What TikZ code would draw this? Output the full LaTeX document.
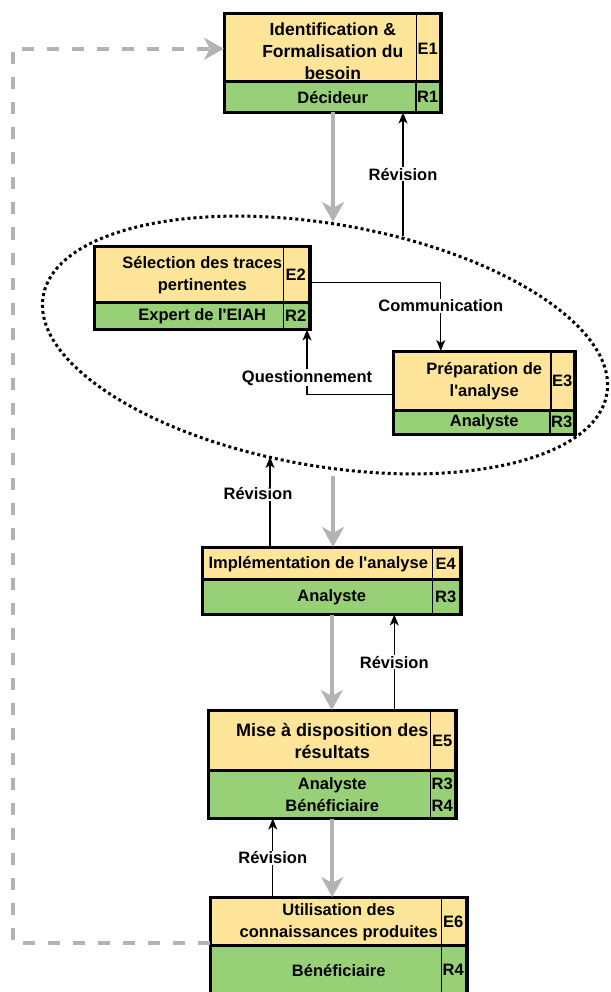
\documentclass[tikz,border=0pt]{standalone}
\usepackage{fontspec}
\setmainfont{Liberation Sans}
\usepackage{xcolor}
\usepackage{tikz}
\usetikzlibrary{arrows.meta}

\definecolor{stepyellow}{HTML}{FFE599}
\definecolor{rolegreen}{HTML}{97D077}
\definecolor{flowgray}{HTML}{B3B3B3}

\begin{document}
\begin{tikzpicture}[x=1pt, y=-1pt,
            font=\bfseries\fontsize{16.5}{22}\selectfont,
            cell/.style={draw, rectangle, line width=1.5pt, inner sep=1pt, align=center},
            stepcell/.style={cell, fill=stepyellow},
            rolecell/.style={cell, fill=rolegreen},
            frame/.style={line width=3pt},
            flow/.style={draw=flowgray, line width=4pt, -{Stealth[length=20pt,width=22pt,inset=6pt]}},
            rev/.style={line width=1.3pt, -{Stealth[length=11pt,width=9pt,inset=3pt]}},
            loopback/.style={draw=flowgray, line width=4pt, dash pattern=on 12pt off 13pt, -{Stealth[length=20pt,width=22pt,inset=6pt]}},
            grouping/.style={line width=3pt, dash pattern=on 3pt off 3pt},
            lbl/.style={fill=white, inner sep=1pt}
            ]
            \useasboundingbox (0,0) rectangle (610,992);

            % Group of steps 2 and 3
            \draw[grouping, rotate around={-9.85:(325,345)}] (325,345) ellipse [x radius=286, y radius=121];

            % Nodes with manual coordinates
            \node[stepcell, anchor=north west, minimum width=216pt, minimum height=68pt, font=\bfseries\fontsize{17.5}{22}\selectfont] (t1) at (224,14) {\rule{0pt}{17pt}Identification \&\\Formalisation du\\besoin};
            \node[stepcell, anchor=north east, minimum width=23pt, minimum height=68pt] (e1) at (440,14) {E1};
            \node[rolecell, anchor=north west, minimum width=216pt, minimum height=29pt] (r1) at (224,82) {Décideur};
            \node[rolecell, anchor=north east, minimum width=23pt, minimum height=29pt] (rc1) at (440,82) {R1};

            \node[stepcell, anchor=north west, minimum width=215pt, minimum height=56pt] (t2) at (94,246) {Sélection des traces\\pertinentes};
            \node[stepcell, anchor=north east, minimum width=25pt, minimum height=56pt] (e2) at (309,246) {E2};
            \node[rolecell, anchor=north west, minimum width=215pt, minimum height=26pt] (r2) at (94,302) {Expert de l\textquotesingle EIAH};
            \node[rolecell, anchor=north east, minimum width=25pt, minimum height=26pt] (rc2) at (309,302) {R2};

            \node[stepcell, anchor=north west, minimum width=181pt, minimum height=59pt] (t3) at (393,351) {Préparation de\\l\textquotesingle analyse};
            \node[stepcell, anchor=north east, minimum width=21pt, minimum height=59pt] (e3) at (574,351) {E3};
            \node[rolecell, anchor=north west, minimum width=181pt, minimum height=23pt] (r3) at (393,410) {Analyste};
            \node[rolecell, anchor=north east, minimum width=21pt, minimum height=23pt] (rc3) at (574,410) {R3};

            \node[stepcell, anchor=north west, minimum width=231pt, minimum height=32pt] (t4) at (202,547) {Implémentation de l\textquotesingle analyse};
            \node[stepcell, anchor=north east, minimum width=27pt, minimum height=32pt] (e4) at (460,547) {E4};
            \node[rolecell, anchor=north west, minimum width=258pt, minimum height=34pt] (r4) at (202,579) {Analyste};
            \node[rolecell, anchor=north east, minimum width=27pt, minimum height=34pt] (rc4) at (460,579) {R3};

            \node[stepcell, anchor=north west, minimum width=247pt, minimum height=60pt, font=\bfseries\fontsize{18}{22}\selectfont] (t5) at (208,710) {Mise à disposition des\\résultats};
            \node[stepcell, anchor=north east, minimum width=24pt, minimum height=60pt] (e5) at (455,710) {E5};
            \node[rolecell, anchor=north west, minimum width=247pt, minimum height=47pt] (r5) at (208,770) {Analyste\\Bénéficiaire};
            \node[rolecell, anchor=north east, minimum width=24pt, minimum height=47pt] (rc5) at (455,770) {R3\\R4};

            \node[stepcell, anchor=north west, minimum width=256pt, minimum height=48pt] (t6) at (210,897) {Utilisation des\\connaissances produites};
            \node[stepcell, anchor=north east, minimum width=24pt, minimum height=48pt] (e6) at (466,897) {E6};
            \node[rolecell, anchor=north west, minimum width=256pt, minimum height=49pt] (r6) at (210,945) {Bénéficiaire};
            \node[rolecell, anchor=north east, minimum width=24pt, minimum height=49pt] (rc6) at (466,945) {R4};

            % Thick outlines
            \foreach \i in {1,...,6} {
                \draw[frame] (t\i.north west) rectangle (r\i.south east);
                \draw[frame] (r\i.north west) -- (r\i.north east);
            }

            % Points on the ellipse and on the boxes
            \coordinate (top1) at (333,222);
            \coordinate (top1r) at (403,236);
            \coordinate (bot1) at (333,476);
            \coordinate (bot1r) at (270,457);
            \coordinate (up5) at ([xshift=62pt]t5.north);
            \coordinate (up6) at ([xshift=-66pt]t6.north);

            % Arrows
            \draw[flow] (r1.south -| top1) -- (top1);
            \draw[rev] (top1r) -- node[lbl]{Révision} (top1r |- r1.south);
            \draw[rev] ([yshift=-8pt]e2.east) -| node[lbl, pos=0.67]{Communication} ([xshift=-43.5pt]t3.north);
            \draw[rev] ([yshift=-13.5pt]t3.west) -| node[lbl, pos=0.63]{Questionnement} ([xshift=-2pt]rc2.south east);
            \draw[flow] (bot1) -- (bot1 |- t4.north);
            \draw[rev] (bot1r |- t4.north) -- node[lbl, pos=0.59, xshift=-12pt]{Révision} (bot1r);
            \draw[flow] (r4.south) -- (r4.south |- t5.north);
            \draw[rev] (up5) -- node[lbl]{Révision} (up5 |- r4.south);
            \draw[flow] (r5.south) -- (r5.south |- t6.north);
            \draw[rev] (up6) -- node[lbl]{Révision} (up6 |- r5.south);
            \draw[loopback] ([yshift=4pt]t6.south west) -- ++(-197,0) |- (t1.west);
        \end{tikzpicture}
\end{document}
